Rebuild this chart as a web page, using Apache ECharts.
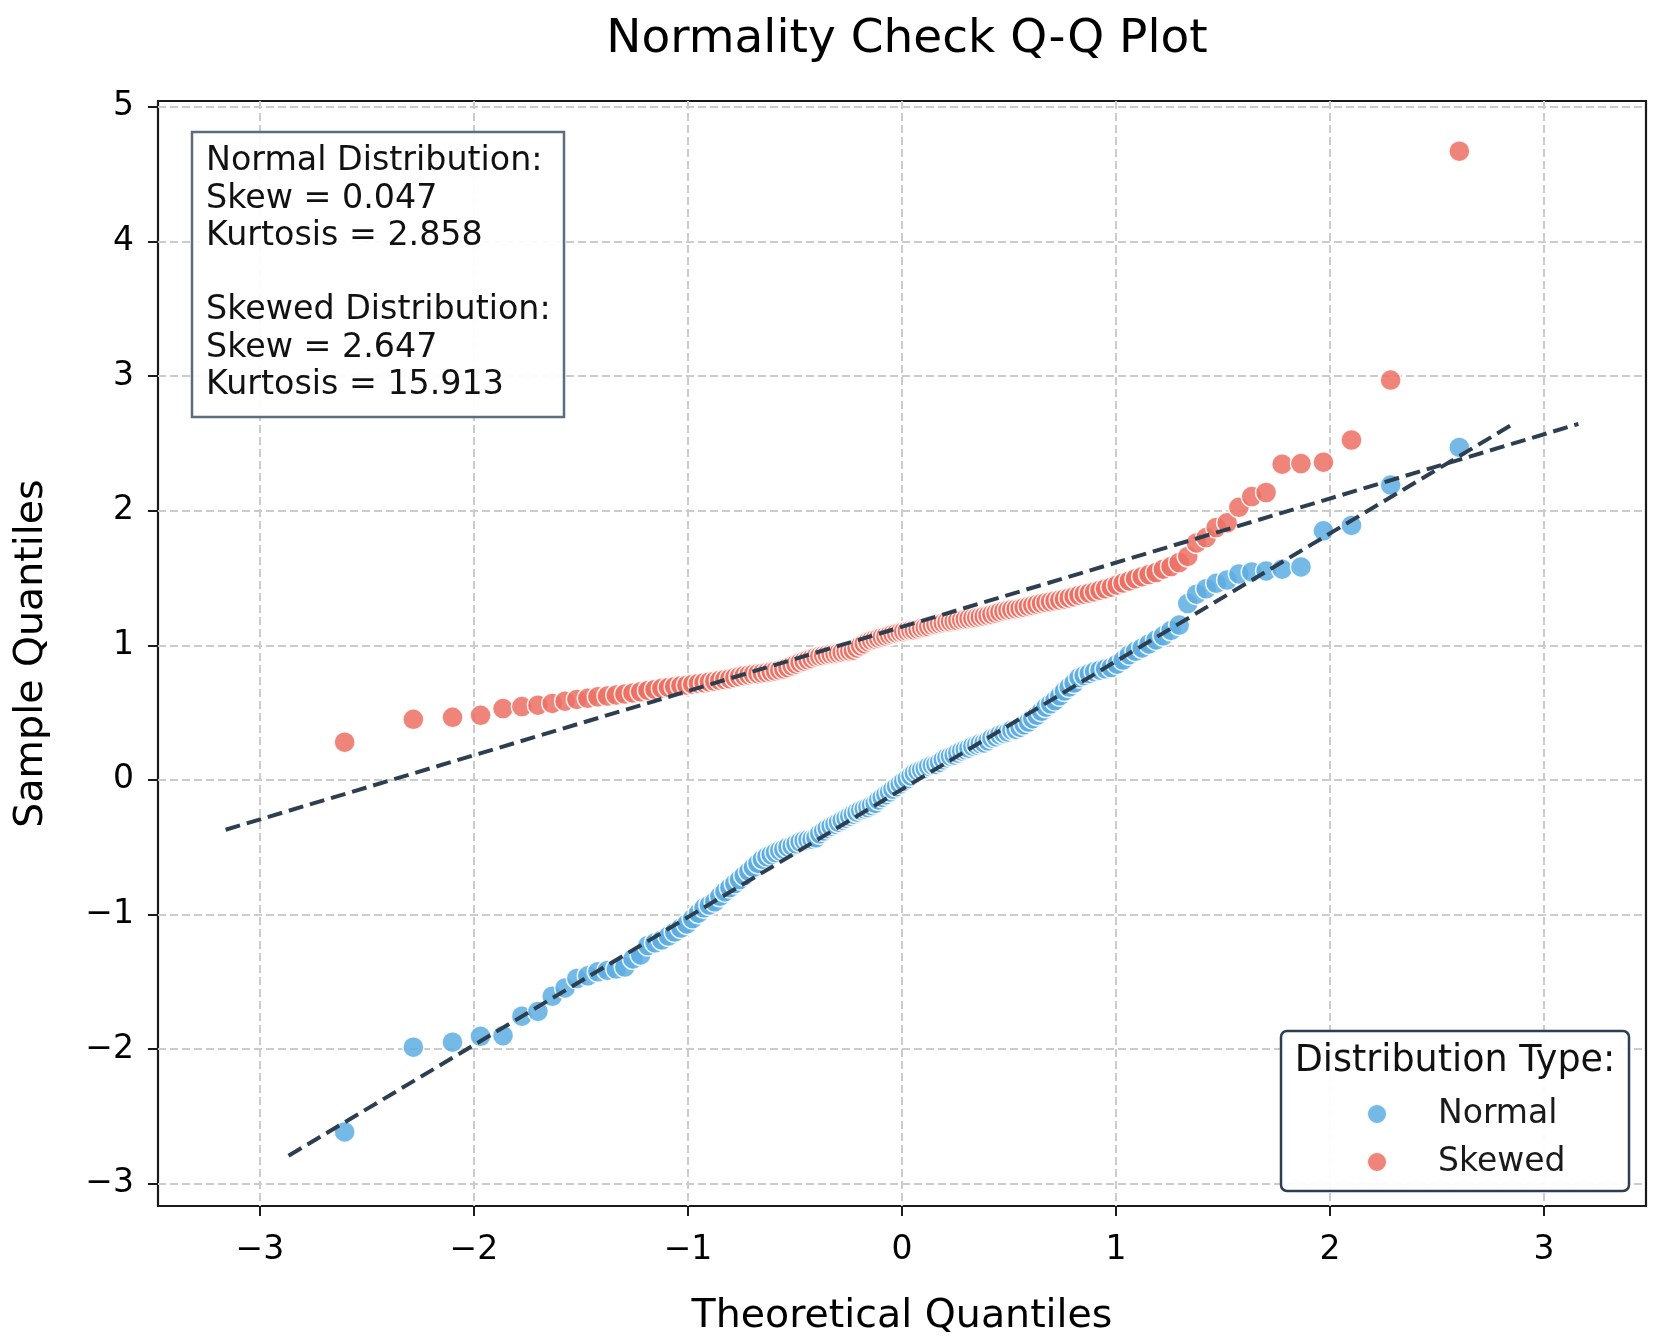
<!DOCTYPE html>
<html><head><meta charset="utf-8">
<script src="https://cdn.jsdelivr.net/npm/echarts@6/dist/echarts.min.js"></script>
<style>html,body{margin:0;padding:0;background:#fff}#c{width:1655px;height:1342px}</style>
</head><body><div id="c"></div>
<script>
const theoreticalQuantiles = [
-2.604,-2.283,-2.100,-1.969,-1.864,-1.776,-1.701,-1.634,-1.574,-1.519,
-1.468,-1.421,-1.376,-1.335,-1.295,-1.257,-1.221,-1.187,-1.154,-1.122,
-1.091,-1.062,-1.033,-1.005,-0.978,-0.951,-0.925,-0.900,-0.875,-0.851,
-0.827,-0.804,-0.781,-0.759,-0.737,-0.715,-0.694,-0.673,-0.652,-0.631,
-0.611,-0.591,-0.571,-0.552,-0.533,-0.513,-0.495,-0.476,-0.457,-0.439,
-0.420,-0.402,-0.384,-0.366,-0.349,-0.331,-0.313,-0.296,-0.279,-0.261,
-0.244,-0.227,-0.210,-0.193,-0.176,-0.159,-0.142,-0.125,-0.109,-0.092,
-0.075,-0.058,-0.042,-0.025,-0.008,
0.008,0.025,0.042,0.058,0.075,
0.092,0.109,0.125,0.142,0.159,0.176,0.193,0.210,0.227,0.244,
0.261,0.279,0.296,0.313,0.331,0.349,0.366,0.384,0.402,0.420,
0.439,0.457,0.476,0.495,0.513,0.533,0.552,0.571,0.591,0.611,
0.631,0.652,0.673,0.694,0.715,0.737,0.759,0.781,0.804,0.827,
0.851,0.875,0.900,0.925,0.951,0.978,1.005,1.033,1.062,1.091,
1.122,1.154,1.187,1.221,1.257,1.295,1.335,1.376,1.421,1.468,
1.519,1.574,1.634,1.701,1.776,1.864,1.969,2.100,2.283,2.604
];
const normalSample = [
-2.615,-1.985,-1.948,-1.905,-1.900,-1.755,-1.720,-1.607,-1.545,-1.475,
-1.455,-1.425,-1.415,-1.405,-1.390,-1.330,-1.300,-1.230,-1.210,-1.190,
-1.160,-1.130,-1.100,-1.070,-1.030,-0.990,-0.950,-0.930,-0.905,-0.865,
-0.830,-0.800,-0.770,-0.740,-0.710,-0.680,-0.650,-0.620,-0.590,-0.570,
-0.555,-0.540,-0.525,-0.515,-0.500,-0.490,-0.475,-0.460,-0.450,-0.445,
-0.440,-0.430,-0.400,-0.380,-0.360,-0.345,-0.330,-0.315,-0.300,-0.285,
-0.270,-0.255,-0.240,-0.225,-0.215,-0.205,-0.190,-0.175,-0.150,-0.130,
-0.110,-0.090,-0.070,-0.050,-0.030,
-0.010,0.010,0.030,0.050,0.065,
0.075,0.085,0.100,0.110,0.115,0.130,0.150,0.165,0.175,0.185,
0.200,0.215,0.225,0.235,0.250,0.260,0.270,0.275,0.290,0.310,
0.320,0.335,0.345,0.355,0.370,0.375,0.390,0.410,0.430,0.455,
0.480,0.510,0.540,0.565,0.590,0.625,0.660,0.690,0.720,0.760,
0.775,0.790,0.805,0.815,0.825,0.835,0.860,0.890,0.930,0.955,
0.980,1.010,1.040,1.070,1.110,1.150,1.310,1.380,1.420,1.460,
1.485,1.530,1.545,1.552,1.565,1.582,1.850,1.890,2.190,2.470
];
const skewedSample = [
0.280,0.450,0.465,0.480,0.530,0.545,0.555,0.568,0.585,0.598,
0.606,0.617,0.623,0.630,0.638,0.646,0.655,0.665,0.672,0.680,
0.687,0.692,0.699,0.704,0.711,0.717,0.722,0.728,0.733,0.740,
0.746,0.752,0.760,0.768,0.775,0.780,0.785,0.789,0.793,0.798,
0.803,0.809,0.816,0.824,0.835,0.848,0.860,0.872,0.882,0.892,
0.902,0.912,0.918,0.924,0.929,0.933,0.937,0.941,0.947,0.953,
0.958,0.964,0.980,0.997,1.012,1.027,1.037,1.045,1.053,1.061,
1.068,1.076,1.083,1.090,1.096,
1.101,1.106,1.110,1.114,1.120,
1.127,1.133,1.139,1.148,1.155,1.161,1.166,1.171,1.175,1.180,
1.184,1.189,1.193,1.197,1.201,1.206,1.211,1.216,1.222,1.229,
1.238,1.247,1.254,1.260,1.265,1.270,1.274,1.281,1.289,1.296,
1.304,1.311,1.318,1.324,1.330,1.336,1.344,1.352,1.361,1.371,
1.380,1.388,1.397,1.408,1.420,1.432,1.447,1.462,1.478,1.495,
1.510,1.525,1.540,1.565,1.585,1.615,1.660,1.760,1.800,1.875,
1.910,2.025,2.105,2.135,2.345,2.350,2.360,2.525,2.970,4.670
];
const normalFitX = [-2.866, 2.866];
const normalFitY = [-2.792, 2.654];
const skewedFitX = [-3.16, 3.16];
const skewedFitY = [-0.370, 2.644];
const xTicks = [-3, -2, -1, 0, 1, 2, 3];
const yTicks = [-3, -2, -1, 0, 1, 2, 3, 4, 5];
const seriesNames = ['Normal', 'Skewed'];
const seriesColors = ['#5DADE2', '#EC7063'];
const statsLines = [
  'Normal Distribution:', 'Skew = 0.047', 'Kurtosis = 2.858', '',
  'Skewed Distribution:', 'Skew = 2.647', 'Kurtosis = 15.913'
];
const titleText = 'Normality Check Q-Q Plot';
const xName = 'Theoretical Quantiles';
const yName = 'Sample Quantiles';
const legendTitle = 'Distribution Type:';

const FONT = '"DejaVu Sans", "Liberation Sans", sans-serif';
const fmt = v => (v < 0 ? '\u2212' + Math.abs(v) : String(v));
const pairs = (xs, ys) => xs.map((x, i) => [x, ys[i]]);

const chart = echarts.init(document.getElementById('c'), null, {renderer: 'canvas'});
const gridLine = {show: true, lineStyle: {color: '#cccccc', width: 2, type: [8, 4]}};
const option = {
  animation: false,
  backgroundColor: '#ffffff',
  textStyle: {fontFamily: FONT},
  title: {
    text: titleText, left: 902, top: 11, textAlign: 'center',
    textStyle: {fontFamily: FONT, fontSize: 47, fontWeight: 'normal', color: '#000'}
  },
  grid: {left: 158, right: 9, top: 101, bottom: 136, show: true, borderColor: '#1a1a1a', borderWidth: 2.2, backgroundColor: 'transparent'},
  xAxis: {
    type: 'value', min: -3.476, max: 3.476,
    name: xName, nameLocation: 'middle', nameGap: 91,
    nameTextStyle: {fontFamily: FONT, fontSize: 39.5, color: '#000'},
    axisLine: {show: false, onZero: false},
    axisTick: {show: true, length: 10, inside: false, customValues: xTicks, lineStyle: {color: '#1a1a1a', width: 2}},
    axisLabel: {customValues: xTicks, formatter: fmt, margin: 28, fontFamily: FONT, fontSize: 33, color: '#000'},
    splitLine: gridLine
  },
  yAxis: {
    type: 'value', min: -3.165, max: 5.043,
    name: yName, nameLocation: 'middle', nameGap: 106,
    nameTextStyle: {fontFamily: FONT, fontSize: 39.5, color: '#000'},
    axisLine: {show: false, onZero: false},
    axisTick: {show: true, length: 10, inside: false, customValues: yTicks, lineStyle: {color: '#1a1a1a', width: 2}},
    axisLabel: {customValues: yTicks, formatter: fmt, margin: 24, fontFamily: FONT, fontSize: 33, color: '#000'},
    splitLine: gridLine
  },
  legend: {
    data: seriesNames, orient: 'vertical', left: 1366, top: 1095,
    itemWidth: 112, itemHeight: 20, itemGap: 10, padding: 0, z: 20,
    icon: 'circle',
    textStyle: {fontFamily: FONT, fontSize: 33, color: '#1a1a1a', lineHeight: 38}
  },
  series: [
    {name: seriesNames[0], type: 'scatter', data: pairs(theoreticalQuantiles, normalSample), symbolSize: 21, z: 2,
     itemStyle: {color: seriesColors[0], opacity: 0.85, borderColor: '#ffffff', borderWidth: 1.5}},
    {name: seriesNames[1], type: 'scatter', data: pairs(theoreticalQuantiles, skewedSample), symbolSize: 21, z: 2,
     itemStyle: {color: seriesColors[1], opacity: 0.85, borderColor: '#ffffff', borderWidth: 1.5}},
    {name: 'Normal fit', type: 'line', data: pairs(normalFitX, normalFitY), symbol: 'none', z: 3, silent: true,
     lineStyle: {color: '#2C3E50', width: 4, type: [15, 7]}},
    {name: 'Skewed fit', type: 'line', data: pairs(skewedFitX, skewedFitY), symbol: 'none', z: 3, silent: true,
     lineStyle: {color: '#2C3E50', width: 4, type: [15, 7]}}
  ],
  graphic: [
    {type: 'rect', z: 10, shape: {x: 192, y: 132, width: 372, height: 285},
     style: {fill: 'rgba(255,255,255,0.92)', stroke: '#5D6D7E', lineWidth: 2.5}},
    {type: 'text', z: 11, x: 206, y: 143,
     style: {text: statsLines.join('\n'), fontFamily: FONT, fontSize: 33.3, lineHeight: 37.3, fill: '#111', align: 'left', verticalAlign: 'top'}},
    {type: 'rect', z: 15, shape: {x: 1281, y: 1031, width: 348, height: 160, r: 6},
     style: {fill: 'rgba(255,255,255,0.92)', stroke: '#2C3E50', lineWidth: 2.5}},
    {type: 'text', z: 16, x: 1455, y: 1062,
     style: {text: legendTitle, fontFamily: FONT, fontSize: 36.5, fill: '#111', align: 'center', verticalAlign: 'middle'}}
  ]
};
chart.setOption(option);
</script>
</body></html>
